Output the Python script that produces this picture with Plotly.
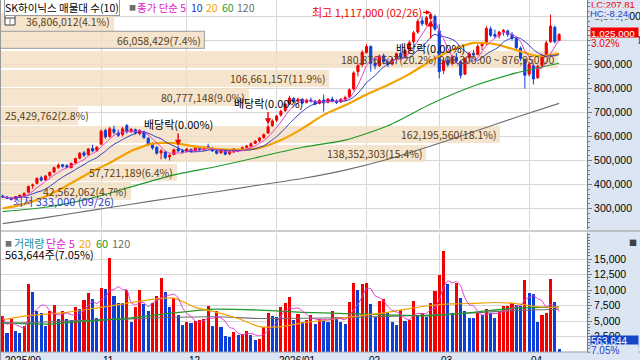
import pandas as pd
import plotly.graph_objects as go

W, H = 640, 360

# ---------------- data ----------------
holidays = ["2025-10-03", "2025-10-06", "2025-10-07", "2025-10-08", "2025-10-09",
            "2025-12-25", "2025-12-31", "2026-01-01", "2026-02-16", "2026-02-17",
            "2026-02-18", "2026-03-02"]
dates = [d.strftime("%Y-%m-%d") for d in pd.bdate_range("2025-09-24", "2026-04-10")
         if d.strftime("%Y-%m-%d") not in holidays]

# daily OHLC in thousand won
open_k = [352, 348, 343, 340, 350, 355, 368, 395, 405, 428,
          420, 438, 452, 472, 482, 478, 470, 490, 510, 532,
          525, 550, 542, 568, 625, 600, 630, 615, 608, 645,
          620, 628, 612, 620, 592, 565, 555, 532, 535, 515,
          525, 548, 540, 538, 546, 540, 552, 545, 558, 550,
          540, 532, 542, 528, 536, 546, 542, 555, 560, 572,
          582, 596, 615, 645, 668, 690, 708, 738, 758, 748,
          755, 742, 752, 748, 738, 752, 742, 756, 748, 744,
          756, 765, 798, 870, 900, 950, 975, 905, 895, 936,
          910, 902, 925, 946, 932, 960, 995, 1035, 1082, 1068,
          1092, 1100, 1040, 875, 918, 905, 930, 912, 860, 928,
          946, 942, 978, 988, 1048, 1025, 1020, 1036, 1040, 1025,
          1008, 968, 920, 860, 895, 845, 895, 940, 995, 1055, 1000]
high_k = [358, 352, 346, 352, 358, 368, 395, 404, 430, 436,
          440, 455, 475, 488, 486, 485, 492, 512, 536, 540,
          552, 566, 560, 630, 632, 640, 645, 628, 640, 652,
          636, 633, 630, 624, 598, 575, 560, 548, 540, 528,
          550, 560, 548, 552, 550, 556, 560, 558, 570, 556,
          545, 548, 546, 540, 552, 550, 558, 565, 575, 585,
          598, 612, 650, 672, 690, 712, 740, 770, 764, 762,
          760, 758, 762, 752, 756, 775, 760, 766, 755, 760,
          770, 800, 872, 905, 960, 985, 980, 925, 942, 945,
          925, 928, 950, 955, 965, 1000, 1040, 1090, 1100, 1102,
          1117, 1108, 1068, 925, 935, 940, 948, 918, 930, 952,
          960, 985, 995, 1060, 1058, 1045, 1040, 1048, 1045, 1035,
          1015, 975, 925, 912, 905, 900, 945, 1000, 1108, 1062, 1030]
low_k = [345, 340, 333, 338, 346, 350, 365, 382, 400, 412,
         415, 430, 448, 465, 470, 468, 468, 488, 505, 515,
         520, 535, 536, 565, 590, 595, 610, 598, 600, 612,
         615, 608, 605, 590, 560, 545, 525, 505, 505, 500,
         522, 535, 530, 532, 532, 538, 540, 542, 548, 536,
         525, 528, 522, 522, 532, 535, 540, 548, 556, 568,
         576, 590, 610, 640, 660, 682, 702, 730, 740, 738,
         735, 738, 742, 730, 734, 704, 738, 742, 735, 740,
         745, 760, 792, 850, 890, 945, 870, 880, 890, 905,
         890, 895, 918, 922, 928, 955, 988, 1028, 1060, 1060,
         1085, 1040, 842, 860, 890, 895, 905, 842, 855, 915,
         930, 938, 960, 980, 1015, 1010, 1008, 1020, 1015, 1000,
         960, 915, 800, 850, 817, 840, 888, 935, 990, 988, 998]
close_k = [348, 343, 338, 350, 355, 362, 392, 398, 425, 418,
           435, 450, 470, 480, 476, 472, 488, 508, 530, 522,
           548, 540, 555, 622, 598, 632, 618, 605, 632, 620,
           630, 615, 625, 596, 565, 552, 530, 540, 512, 522,
           545, 540, 535, 548, 538, 552, 545, 555, 552, 540,
           530, 545, 526, 536, 548, 540, 554, 560, 570, 580,
           594, 608, 640, 665, 685, 705, 735, 760, 745, 755,
           740, 752, 748, 735, 750, 740, 756, 748, 742, 755,
           762, 795, 865, 895, 950, 975, 905, 895, 935, 912,
           900, 922, 945, 930, 958, 992, 1032, 1080, 1070, 1095,
           1108, 1048, 870, 915, 900, 932, 915, 855, 925, 945,
           940, 975, 985, 1050, 1022, 1018, 1035, 1042, 1025, 1010,
           970, 925, 855, 900, 840, 892, 935, 990, 1060, 995, 1025]
# daily volume in thousand shares (last day intraday)
volume_k = [5830, 3070, 5370, 3380, 3070, 4140, 10900, 9660, 6600, 6290,
            4140, 6600, 7520, 5370, 6600, 5370, 5220, 7210, 6900, 8440,
            9510, 8590, 5520, 10280, 10200, 15190, 9050, 7980, 7900, 9970,
            4910, 7210, 9970, 7820, 6600, 7980, 9050, 11970, 9660, 7210,
            8750, 5980, 4300, 4910, 4700, 5000, 5200, 5300, 7360, 4140,
            6600, 3990, 2610, 2450, 3220, 2760, 2910, 3380, 2760, 1990,
            2150, 3990, 6290, 5830, 5680, 7210, 7980, 8900, 5220, 6140,
            4910, 5220, 5980, 4450, 5370, 5220, 4760, 6600, 5520, 4760,
            4450, 8130, 11200, 9970, 10900, 11050, 7820, 5680, 8280, 8590,
            6290, 4760, 4300, 6750, 5060, 5220, 8280, 5830, 6290, 5680,
            7980, 9820, 12420, 16260, 10900, 6290, 11050, 8750, 6600, 5520,
            5450, 6290, 5980, 6900, 6290, 5520, 6600, 7360, 7400, 7980,
            7520, 7450, 11660, 9510, 9360, 4910, 5980, 6290, 11810, 7995,
            563.644]

# moving averages (every 5th / 10th trading day)
ma20_k = [300, 318, 350, 395, 446, 490, 540, 570, 572, 558, 548, 545, 552, 585,
          633, 690, 730, 775, 815, 860, 915, 960, 990, 985, 960, 935, 946]
ma60_k = [287, 305, 340, 390, 440, 475, 515, 555, 585, 645, 735, 810, 865, 905]
ma120_k = [237, 262, 290, 318, 345, 370, 398, 425, 460, 505, 560, 620, 680, 738]
vol_ma20 = [5200, 5800, 6100, 6400, 6900, 7400, 7980, 8500, 8700, 7200, 6400, 5400, 4100, 4100,
            4700, 5100, 5550, 5980, 6400, 7000, 7500, 7750, 7850, 7980, 7800, 7300, 7210]
vol_ma60 = [4750, 4500, 5000, 5500, 6300, 6900, 6750, 6400, 6200, 6000, 5850, 6400, 7100, 7250]
vol_ma120 = [4600, 4850, 5100, 5350, 5600, 5680, 5400, 5450, 5550, 5750, 5950, 6300, 6700, 6900]

# price-by-volume bands (top to bottom)
band_volume = [36806012, 66058429, 180876527, 106661157, 80777148,
               25429762, 162195560, 138352303, 57721189, 42562062]
band_pct = [4.1, 7.4, 20.2, 11.9, 9.0, 2.8, 18.1, 15.4, 6.4, 4.7]
max_band_range = "906,300.00 ~ 876,950.00"

month_tick_dates = ["2025-09-24", "2025-11-03", "2025-12-01", "2026-01-02",
                    "2026-02-02", "2026-03-03", "2026-04-01"]
month_tick_labels = ["2025/09", "11", "12", "2026/01", "02", "03", "04"]

event_dates = ["2025-11-27", "2025-12-29", "2026-02-26"]
event_side = ["above", "above", "below"]
event_text = "배당락(0.00%)"

# ---------------- derived ----------------
K = 1000
opens = [v * K for v in open_k]
highs = [v * K for v in high_k]
lows = [v * K for v in low_k]
closes = [v * K for v in close_k]
cs = pd.Series(closes)
ma5 = cs.rolling(5, min_periods=1).mean()
ma10 = cs.rolling(10, min_periods=1).mean()
vol_ma5 = pd.Series(volume_k).rolling(5, min_periods=1).mean()
d5 = dates[::5]
d10 = dates[::10]

n_band = len(band_pct)
p_lo, p_hi = min(lows), max(highs)
band_h = (p_hi - p_lo) / n_band
band_centers = [p_hi - band_h * (i + 0.5) for i in range(n_band)]
cur = closes[-1]
cur_band = [i for i in range(n_band) if p_hi - band_h * (i + 1) <= cur <= p_hi - band_h * i][0]
imax = band_pct.index(max(band_pct))
band_labels = []
for i, (v, p) in enumerate(zip(band_volume, band_pct)):
    s = f"{v:,}({p:.1f}%)"
    if i == imax:
        s += " " + max_band_range
    band_labels.append(s)

RED = "#f20000"
BLUE = "#0b3fd8"
PANEL = "#dce6f2"
GRID = "#d6d6d6"
FONT = "Noto Sans CJK KR, Noto Sans, sans-serif"
NUMFONT = "Liberation Sans, Arial, sans-serif"

vol_colors = [RED] + [RED if volume_k[i] >= volume_k[i - 1] else BLUE for i in range(1, len(volume_k))]

# geometry (pixels)
PL, PR = 1, 587
P_TOP, P_BOT = 0, 229
V_TOP, V_BOT = 233, 352
xd = [PL / W, PR / W]
px_per_unit = 4.28
cat_range = [-(2.7 - PL) / px_per_unit, -(2.7 - PL) / px_per_unit + (PR - PL) / px_per_unit]
band_xmax = max(band_pct) * (PR - PL) / (558 - PL)


def py(p):
    return 1 - p / H


fig = go.Figure()

# volume-profile bands
fig.add_trace(go.Bar(
    x=band_pct, y=band_centers, orientation="h", width=band_h * 0.93,
    marker=dict(color="#f3dfc4", opacity=0.82,
                line=dict(color=["#9a9a9a" if i == cur_band else "rgba(0,0,0,0)" for i in range(n_band)],
                          width=[1.2 if i == cur_band else 0 for i in range(n_band)])),
    xaxis="x", yaxis="y", hoverinfo="skip"))

# candles
fig.add_trace(go.Candlestick(
    x=dates, open=opens, high=highs, low=lows, close=closes,
    increasing=dict(line=dict(color=RED, width=1), fillcolor=RED),
    decreasing=dict(line=dict(color=BLUE, width=1), fillcolor=BLUE),
    whiskerwidth=0, xaxis="x4", yaxis="y", hoverinfo="skip"))

for xs, ys, col, w in [(d10, [v * K for v in ma120_k], "#6e6e6e", 1.1),
                       (d10, [v * K for v in ma60_k], "#1f9a2a", 1.1),
                       (d5, [v * K for v in ma20_k], "#f4a200", 2.2),
                       (dates, ma10, "#2433c0", 1),
                       (dates, ma5, "#e23ad2", 1)]:
    fig.add_trace(go.Scatter(x=xs, y=ys, mode="lines", line=dict(color=col, width=w, shape="spline", smoothing=0.6),
                             xaxis="x4", yaxis="y", hoverinfo="skip"))

# volume
fig.add_trace(go.Bar(x=dates, y=volume_k, marker=dict(color=vol_colors, line=dict(width=0)), width=0.72,
                     xaxis="x2", yaxis="y2", hoverinfo="skip"))
for xs, ys, col, w in [(d10, vol_ma120, "#6e6e6e", 1.1),
                       (d10, vol_ma60, "#1f9a2a", 1.3),
                       (d5, vol_ma20, "#f4a200", 1.2),
                       (dates, vol_ma5, "#e23ad2", 1)]:
    fig.add_trace(go.Scatter(x=xs, y=ys, mode="lines", line=dict(color=col, width=w, shape="spline", smoothing=0.6),
                             xaxis="x2", yaxis="y2", hoverinfo="skip"))

y_lo = 900000 - (P_BOT - 64.5) / 0.24 * K
y_hi = 900000 + 64.5 / 0.24 * K
v_hi = (V_BOT - V_TOP) / 6.2 * 1000

axis_common = dict(ticks="outside", ticklen=4, tickcolor="#7a7a7a", showline=True, linecolor="#7a7a7a",
                   tickfont=dict(size=10.5, color="#000", family=NUMFONT), gridcolor=GRID, zeroline=False,
                   fixedrange=True, automargin=False)

fig.update_layout(
    width=W, height=H, margin=dict(l=0, r=0, t=0, b=0, autoexpand=False),
    paper_bgcolor="white", plot_bgcolor="white", showlegend=False,
    font=dict(family=FONT, size=11, color="#000"), hovermode=False, bargap=0,
    xaxis=dict(domain=xd, range=[0, band_xmax], visible=False, anchor="y", fixedrange=True),
    xaxis4=dict(overlaying="x", type="category", range=cat_range, anchor="y", showgrid=True,
                gridcolor=GRID, tickvals=month_tick_dates[1:], showticklabels=False, ticks="",
                fixedrange=True, rangeslider=dict(visible=False)),
    xaxis2=dict(domain=xd, type="category", range=cat_range, anchor="y2", showgrid=True,
                gridcolor=GRID, tickvals=month_tick_dates[1:], showticklabels=False, ticks="",
                fixedrange=True),
    yaxis=dict(domain=[py(P_BOT), py(P_TOP)], range=[y_lo, y_hi], side="right", anchor="x",
               dtick=100000, tick0=0, tickformat=",d", showgrid=True,
               minor=dict(ticks="outside", ticklen=2, tickcolor="#7a7a7a", dtick=20000, showgrid=False),
               **axis_common),
    yaxis2=dict(domain=[py(V_BOT), py(V_TOP)], range=[0, v_hi], side="right", anchor="x2",
                tickvals=[2500, 5000, 7500, 10000, 12500, 15000], tickformat=",d", ticksuffix="K",
                showgrid=True,
                minor=dict(ticks="outside", ticklen=2, tickcolor="#7a7a7a", dtick=500, showgrid=False),
                **axis_common),
)

shapes = [
    dict(type="rect", xref="paper", yref="paper", x0=PR / W, x1=1, y0=0, y1=1,
         fillcolor=PANEL, line=dict(width=0), layer="below"),
    dict(type="rect", xref="paper", yref="paper", x0=0, x1=1, y0=0, y1=py(V_BOT),
         fillcolor=PANEL, line=dict(width=0), layer="below"),
    dict(type="line", xref="paper", yref="paper", x0=0, x1=1, y0=py(V_BOT), y1=py(V_BOT),
         line=dict(color="#9a9a9a", width=1)),
    dict(type="line", xref="paper", yref="paper", x0=0, x1=1, y0=py(231), y1=py(231),
         line=dict(color="#9a9a9a", width=1)),
    dict(type="line", xref="paper", yref="paper", x0=0.5 / W, x1=0.5 / W, y0=0, y1=1,
         line=dict(color="#9a9a9a", width=1)),
    dict(type="rect", xref="paper", yref="paper", x0=5 / W, x1=15 / W, y0=py(25), y1=py(15),
         fillcolor="white", line=dict(color="#404040", width=1)),
    dict(type="line", xref="paper", yref="paper", x0=5 / W, x1=15 / W, y0=py(18), y1=py(18),
         line=dict(color="#404040", width=1)),
    dict(type="line", xref="paper", yref="paper", x0=10 / W, x1=10 / W, y0=py(25), y1=py(18),
         line=dict(color="#808080", width=1)),
]
fig.update_layout(shapes=shapes)


def pa(text, x, y, color="#000", size=11, xanchor="left", family=FONT, **kw):
    d = dict(text=text, x=x / W, y=py(y), xref="paper", yref="paper", xanchor=xanchor,
             yanchor="middle", showarrow=False, font=dict(color=color, size=size, family=family))
    d.update(kw)
    return d


anns = []
# band labels (right-aligned at the bar end, or from the left edge when the bar is too short)
for i, lab in enumerate(band_labels):
    bar_px = band_pct[i] / band_xmax * (PR - PL)
    fits = bar_px >= len(lab) * 5.4 + 2
    anns.append(dict(text=lab, x=band_pct[i] if fits else 0, y=band_centers[i], xref="x", yref="y",
                     xanchor="right" if fits else "left", yanchor="middle", showarrow=False,
                     xshift=-2 if fits else 2,
                     font=dict(color="#5a4015", size=10.5, family=FONT)))

# header
HY = 7
anns.append(pa("SK하이닉스 매물대 수(10)", 4, HY, size=10.5, bordercolor="#9a9a9a", borderwidth=1,
               borderpad=0, bgcolor="white"))
anns.append(pa("■", 127, HY, color="#707070", size=7))
for t, x, c in [("종가 단순 5", 135, "#e020c8"), ("10", 189, "#2433c0"), ("20", 204, "#f4a200"),
                ("60", 220, "#1f9a2a"), ("120", 235, "#6e6e6e")]:
    anns.append(pa(t, x, HY, color=c, size=10.5))

# high / low markers
ih = highs.index(max(highs))
il = lows.index(min(lows))
anns.append(dict(text=f"최고 {highs[ih]:,} ({dates[ih][5:7]}/{dates[ih][8:10]})", x=dates[ih], y=highs[ih],
                 xref="x4", yref="y", showarrow=True, arrowhead=2, arrowsize=0.8, arrowwidth=1.2,
                 arrowcolor=RED, ax=-64, ay=0, font=dict(color=RED, size=11, family=FONT)))
anns.append(dict(text=f"최저 {lows[il]:,} ({dates[il][5:7]}/{dates[il][8:10]})", x=dates[il], y=lows[il],
                 xref="x4", yref="y", showarrow=True, arrowhead=2, arrowsize=0.8, arrowwidth=1.2,
                 arrowcolor=BLUE, ax=52, ay=0, font=dict(color="#1f3fc8", size=11, family=FONT)))

# events
for d, side in zip(event_dates, event_side):
    i = dates.index(d)
    yv = highs[i] if side == "above" else lows[i]
    anns.append(dict(text=event_text, x=d, y=yv, xref="x4", yref="y", showarrow=True,
                     arrowhead=2, arrowsize=0.9, arrowwidth=1.4, arrowcolor=RED,
                     ax=0, ay=-22 if side == "above" else 28,
                     font=dict(color="#000", size=11, family=FONT)))

# right panel values
anns.append(pa("LC:207.81", 589, 5, color=RED, size=9.5, family=NUMFONT))
anns.append(pa("HC:-8.24", 589, 14, color="#1f3fc8", size=9.5, family=NUMFONT, bgcolor=PANEL,
               width=38, align="left", borderpad=0))
chg = (closes[-1] - closes[-2]) / closes[-2] * 100
anns.append(pa(f"{closes[-1]:,}", 590, 33, color="white", size=9.8, family=NUMFONT, bgcolor=RED,
               width=47, align="left", borderpad=0))
anns.append(pa(f"{chg:.2f}%", 590, 43, color=RED, size=10, family=NUMFONT, bgcolor=PANEL, width=47,
               align="left", borderpad=0))

# volume header
anns.append(pa("■", 3, 243, color="#707070", size=7))
for t, x, c in [("거래량", 12, "#1b8c9c"), ("단순 5", 44, "#e020c8"), ("20", 77, "#f4a200"),
                ("60", 94, "#1f9a2a"), ("120", 110, "#6e6e6e")]:
    anns.append(pa(t, x, 243, color=c, size=11))
last_sh = int(round(volume_k[-1] * 1000))
vchg = volume_k[-1] / volume_k[-2] * 100
anns.append(pa(f"{last_sh:,}주({vchg:.2f}%)", 3, 254, size=11))
anns.append(pa("■", 627, 242, color="#404040", size=8))
anns.append(pa(f"{last_sh:,}", 590, 341, color="white", size=10, family=NUMFONT, bgcolor="#1546c8",
               width=47, align="left", borderpad=0))
anns.append(pa(f"{vchg:.2f}%", 590, 350, color="#1f3fc8", size=10, family=NUMFONT, bgcolor=PANEL,
               width=47, align="left", borderpad=0))

# date labels
for d, lab in zip(month_tick_dates, month_tick_labels):
    anns.append(dict(text=lab, x=d, y=py(V_BOT + 1), xref="x2", yref="paper", xanchor="left",
                     yanchor="top", showarrow=False,
                     font=dict(color="#000", size=10, family=NUMFONT)))

fig.update_layout(annotations=anns)
fig.write_html("out.html", config={"displayModeBar": False},
               post_script="document.body.style.margin='0';document.body.style.padding='0';")
